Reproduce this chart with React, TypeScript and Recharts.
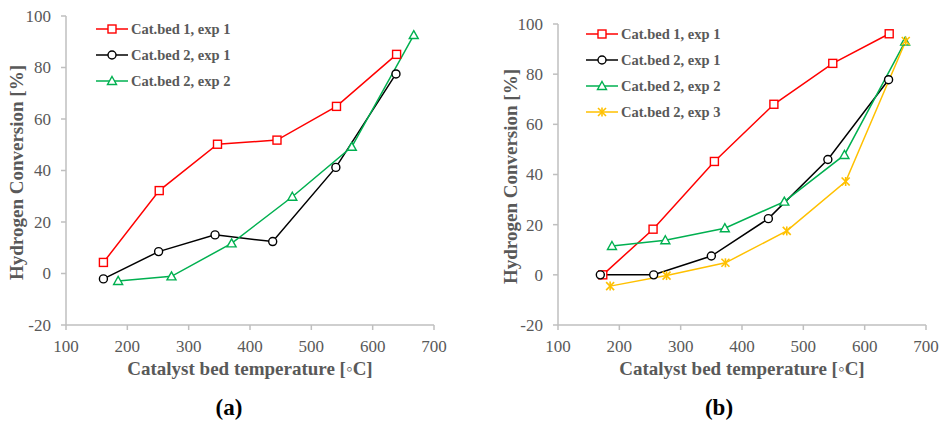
import { LineChart, Line, XAxis, YAxis, Legend, Label } from "recharts"

// panel (a)
const A_BED1_EXP1_T = [161, 252, 347, 444, 541, 639]
const A_BED1_EXP1_H = [4.3, 32.2, 50.2, 51.8, 64.9, 85.1]
const A_BED2_EXP1_T = [161, 251, 343, 437, 540, 638]
const A_BED2_EXP1_H = [-2.1, 8.5, 15, 12.4, 41.2, 77.5]
const A_BED2_EXP2_T = [185, 272, 370, 469, 566, 667]
const A_BED2_EXP2_H = [-2.9, -1.1, 11.7, 29.8, 49.2, 92.6]

// panel (b)
const B_BED1_EXP1_T = [173, 255, 355, 452, 548, 640]
const B_BED1_EXP1_H = [0, 18.2, 45.2, 68, 84.3, 96.1]
const B_BED2_EXP1_T = [169, 256, 350, 443, 540, 639]
const B_BED2_EXP1_H = [0, 0, 7.5, 22.4, 46, 77.8]
const B_BED2_EXP2_T = [188, 275, 372, 469, 567, 666]
const B_BED2_EXP2_H = [11.5, 13.8, 18.6, 29.2, 47.8, 93]
const B_BED2_EXP3_T = [185, 277, 373, 473, 569, 667]
const B_BED2_EXP3_H = [-4.5, -0.3, 4.8, 17.5, 37.2, 93.2]

const X_TICKS = [100, 200, 300, 400, 500, 600, 700]
const Y_TICKS = [-20, 0, 20, 40, 60, 80, 100]

const FONT = "'Liberation Serif', 'Times New Roman', serif"
const GRAY = "#595959"
const AXIS = "#bfbfbf"

type Shape = "square" | "circle" | "triangle" | "star"

interface Series {
  name: string
  color: string
  shape: Shape
  t: number[]
  h: number[]
}

const toPoints = (t: number[], h: number[]) => t.map((v, i) => ({ t: v, h: h[i] }))

function Marker({ cx, cy, shape, color }: { cx: number; cy: number; shape: Shape; color: string }) {
  const s = 4
  const common = { stroke: color, strokeWidth: 1.4, fill: "#fff" }
  if (shape === "square") return <rect x={cx - s} y={cy - s} width={s * 2} height={s * 2} {...common} />
  if (shape === "circle") return <circle cx={cx} cy={cy} r={s} {...common} />
  if (shape === "triangle")
    return <path d={`M${cx},${cy - s - 0.5} L${cx + s + 0.5},${cy + s - 0.5} L${cx - s - 0.5},${cy + s - 0.5} Z`} {...common} />
  return (
    <g stroke={color} strokeWidth={1.6}>
      <line x1={cx} y1={cy - s - 0.5} x2={cx} y2={cy + s + 0.5} />
      <line x1={cx - s} y1={cy - s} x2={cx + s} y2={cy + s} />
      <line x1={cx - s} y1={cy + s} x2={cx + s} y2={cy - s} />
    </g>
  )
}

// serif tick text, drawn at the position recharts computes
const XTick = (p: any) => (
  <text x={p.x} y={p.y} dy="0.75em" textAnchor="middle" fill={GRAY} fontFamily={FONT} fontSize={17}>
    {p.payload.value}
  </text>
)
const YTick = (p: any) => (
  <text x={p.x} y={p.y} dy="0.35em" textAnchor="end" fill={GRAY} fontFamily={FONT} fontSize={17}>
    {p.payload.value}
  </text>
)

function LegendBox({ series }: { series: Series[] }) {
  return (
    <div style={{ fontFamily: FONT, fontWeight: "bold", fontSize: 14.5, color: GRAY }}>
      {series.map((s) => (
        <div key={s.name} style={{ display: "flex", alignItems: "center", height: 26, whiteSpace: "nowrap" }}>
          <svg width={32} height={26}>
            <line x1={0} y1={13} x2={32} y2={13} stroke={s.color} strokeWidth={1.5} />
            <Marker cx={16} cy={13} shape={s.shape} color={s.color} />
          </svg>
          <span style={{ marginLeft: 3 }}>{s.name}</span>
        </div>
      ))}
    </div>
  )
}

interface PanelProps {
  series: Series[]
  width: number
  margin: { top: number; right: number; bottom: number; left: number }
  legendPos: { top: number; left: number }
  yTitleX: number
}

function Panel({ series, width, margin, legendPos, yTitleX }: PanelProps) {
  return (
    <LineChart width={width} height={423} margin={margin}>
      <XAxis
        type="number"
        dataKey="t"
        domain={[100, 700]}
        ticks={X_TICKS}
        allowDataOverflow
        height={40}
        tickSize={5}
        tickMargin={9}
        axisLine={{ stroke: AXIS, strokeWidth: 1.5 }}
        tickLine={{ stroke: AXIS, strokeWidth: 1.5 }}
        tick={XTick}
      >
        <Label
          content={(p: any) => {
            const vb = p.viewBox
            return (
              <text
                x={vb.x + vb.width / 2}
                y={vb.y + 43}
                textAnchor="middle"
                dominantBaseline="central"
                fill={GRAY}
                fontFamily={FONT}
                fontWeight="bold"
                fontSize={19}
              >
                Catalyst bed temperature [◦C]
              </text>
            )
          }}
        />
      </XAxis>
      <YAxis
        type="number"
        domain={[-20, 100]}
        ticks={Y_TICKS}
        width={50}
        tickSize={5}
        tickMargin={10}
        axisLine={{ stroke: AXIS, strokeWidth: 1.5 }}
        tickLine={{ stroke: AXIS, strokeWidth: 1.5 }}
        tick={YTick}
      >
        <Label
          content={(p: any) => {
            const vb = p.viewBox
            const cy = vb.y + vb.height / 2 + 2
            return (
              <text
                x={yTitleX}
                y={cy}
                transform={`rotate(-90, ${yTitleX}, ${cy})`}
                textAnchor="middle"
                dominantBaseline="central"
                fill={GRAY}
                fontFamily={FONT}
                fontWeight="bold"
                fontSize={19}
              >
                Hydrogen Conversion [%]
              </text>
            )
          }}
        />
      </YAxis>
      <Legend
        layout="horizontal"
        verticalAlign="middle"
        align="center"
        wrapperStyle={{ top: legendPos.top, left: legendPos.left, width: "auto" }}
        content={() => <LegendBox series={series} />}
      />
      {series.map((s) => (
        <Line
          key={s.name}
          name={s.name}
          data={toPoints(s.t, s.h)}
          dataKey="h"
          stroke={s.color}
          strokeWidth={1.5}
          isAnimationActive={false}
          dot={(p: any) => <Marker key={p.index} cx={p.cx} cy={p.cy} shape={s.shape} color={s.color} />}
          activeDot={false}
        />
      ))}
    </LineChart>
  )
}

const seriesA: Series[] = [
  { name: "Cat.bed 1, exp 1", color: "#ff0000", shape: "square", t: A_BED1_EXP1_T, h: A_BED1_EXP1_H },
  { name: "Cat.bed 2, exp 1", color: "#000000", shape: "circle", t: A_BED2_EXP1_T, h: A_BED2_EXP1_H },
  { name: "Cat.bed 2, exp 2", color: "#00b050", shape: "triangle", t: A_BED2_EXP2_T, h: A_BED2_EXP2_H },
]

const seriesB: Series[] = [
  { name: "Cat.bed 1, exp 1", color: "#ff0000", shape: "square", t: B_BED1_EXP1_T, h: B_BED1_EXP1_H },
  { name: "Cat.bed 2, exp 1", color: "#000000", shape: "circle", t: B_BED2_EXP1_T, h: B_BED2_EXP1_H },
  { name: "Cat.bed 2, exp 2", color: "#00b050", shape: "triangle", t: B_BED2_EXP2_T, h: B_BED2_EXP2_H },
  { name: "Cat.bed 2, exp 3", color: "#ffc000", shape: "star", t: B_BED2_EXP3_T, h: B_BED2_EXP3_H },
]

const captionStyle = {
  position: "absolute" as const,
  top: 396,
  transform: "translateX(-50%)",
  fontFamily: FONT,
  fontWeight: "bold" as const,
  fontSize: 23,
  lineHeight: 1,
  color: "#000",
}

export default function App() {
  return (
    <div style={{ position: "fixed", left: 0, top: 0, width: 943, height: 423, background: "#fff", overflow: "hidden" }}>
      <div style={{ position: "absolute", left: 0, top: 0 }}>
        <Panel
          series={seriesA}
          width={470}
          margin={{ top: 16, right: 36, bottom: 58, left: 16 }}
          legendPos={{ top: 16, left: 96 }}
          yTitleX={16}
        />
      </div>
      <div style={{ position: "absolute", left: 470, top: 0 }}>
        <Panel
          series={seriesB}
          width={473}
          margin={{ top: 24, right: 17, bottom: 58, left: 38 }}
          legendPos={{ top: 21, left: 116 }}
          yTitleX={40}
        />
      </div>
      <div style={{ ...captionStyle, left: 229 }}>(a)</div>
      <div style={{ ...captionStyle, left: 719 }}>(b)</div>
    </div>
  )
}
